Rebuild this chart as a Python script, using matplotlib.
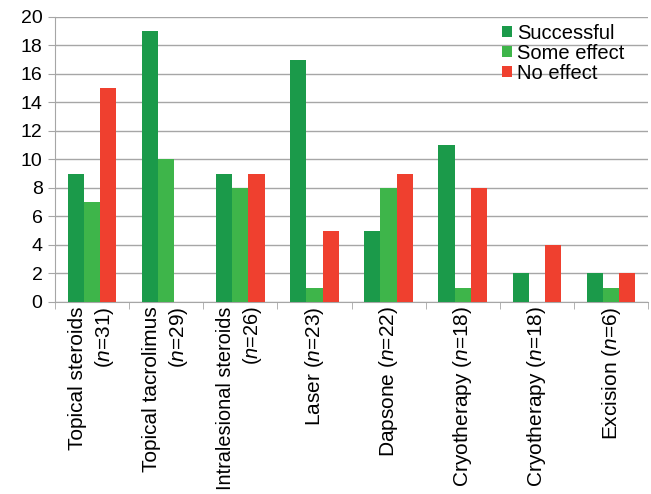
import numpy as np
import matplotlib
matplotlib.use("Agg")
import matplotlib.pyplot as plt
from matplotlib.transforms import ScaledTranslation

plt.rcParams['font.family'] = ['Liberation Sans', 'DejaVu Sans']
plt.rcParams['mathtext.fontset'] = 'custom'
plt.rcParams['mathtext.rm'] = 'Liberation Sans'
plt.rcParams['mathtext.it'] = 'Liberation Sans:italic'

# treatment groups and counts
treatments = ["Topical steroids\n($\\mathit{n}$=31)",
              "Topical tacrolimus\n($\\mathit{n}$=29)",
              "Intralesional steroids\n($\\mathit{n}$=26)",
              "Laser ($\\mathit{n}$=23)",
              "Dapsone ($\\mathit{n}$=22)",
              "Cryotherapy ($\\mathit{n}$=18)",
              "Cryotherapy ($\\mathit{n}$=18)",
              "Excision ($\\mathit{n}$=6)"]
successful = [9, 19, 9, 17, 5, 11, 2, 2]
some_effect = [7, 10, 8, 1, 8, 1, 0, 1]
no_effect = [15, 0, 9, 5, 9, 8, 4, 2]

series_names = ["Successful", "Some effect", "No effect"]
colors = ["#1b9a4a", "#3eb54a", "#ef402f"]
grey = "#a6a6a6"

fig = plt.figure(figsize=(6.51, 4.94), dpi=100)
ax = fig.add_axes([0.0845, 0.3887, 0.911, 0.5769])

x = np.arange(len(treatments))
w = 0.219
for i, (vals, name, c) in enumerate(zip([successful, some_effect, no_effect], series_names, colors)):
    ax.bar(x + (i - 1) * w, vals, width=w, color=c, label=name, zorder=3)

ax.set_xlim(-0.5, len(treatments) - 0.5)
ax.set_ylim(0, 20)
ax.set_yticks(range(0, 21, 2))
ax.yaxis.grid(True, color=grey, linewidth=1.0, zorder=0)
ax.set_axisbelow(True)

ax.set_xticks(x)
ax.set_xticklabels(treatments, rotation=90, ha='center', va='top',
                   multialignment='right', fontsize=15, linespacing=1.35)
# nudge labels a little to the right, like the original
shift = ScaledTranslation(4 / 100, 0, fig.dpi_scale_trans)
for lbl in ax.get_xticklabels():
    lbl.set_transform(lbl.get_transform() + shift)
# longest label: shrink a touch so it stays inside the figure
ax.get_xticklabels()[2].set_fontsize(14.3)
ax.set_xticks(np.arange(-0.5, len(treatments)), minor=True)
ax.tick_params(axis='x', which='major', length=0, pad=3)
ax.tick_params(axis='x', which='minor', length=5, color=grey)
ax.tick_params(axis='y', length=5, color=grey, labelsize=14, pad=4)

for s in ['top', 'right']:
    ax.spines[s].set_visible(False)
for s in ['left', 'bottom']:
    ax.spines[s].set_color(grey)

fig.legend(*ax.get_legend_handles_labels(), loc='upper left',
           bbox_to_anchor=(0.771, 0.952), frameon=False,
           fontsize=14.5, handlelength=0.5, handleheight=0.5,
           handletextpad=0.25, labelspacing=0.05, borderpad=0,
           borderaxespad=0)

fig.savefig("out.png", dpi=100)
